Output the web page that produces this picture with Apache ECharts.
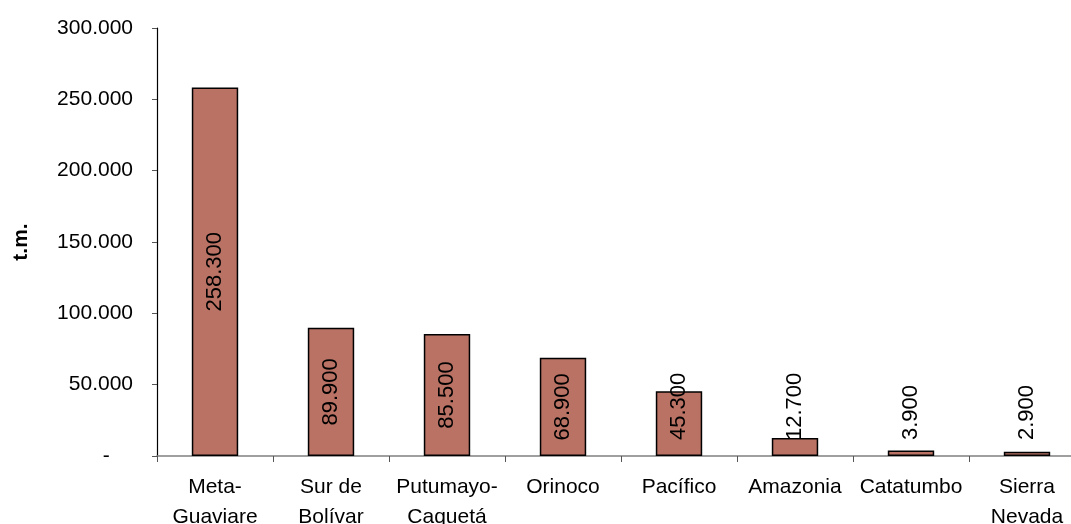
<!DOCTYPE html>
<html>
<head>
<meta charset="utf-8">
<script src="https://cdn.jsdelivr.net/npm/echarts@6/dist/echarts.min.js"></script>
<style>
    html, body { margin: 0; padding: 0; background: #fff; }
    #chart { width: 1071px; height: 524px; }
</style>
</head>
<body>
<div id="chart"></div>
<script>
const regions = ['Meta-\nGuaviare', 'Sur de\nBolívar', 'Putumayo-\nCaquetá', 'Orinoco', 'Pacífico', 'Amazonia', 'Catatumbo', 'Sierra\nNevada']
const tons = [258300, 89900, 85500, 68900, 45300, 12700, 3900, 2900]
const yTicks = [0, 50000, 100000, 150000, 200000, 250000, 300000]

const font = 'Liberation Sans, Arial, sans-serif'
const fmt = (v) => v === 0 ? '-    ' : String(v).replace(/\B(?=(\d{3})+(?!\d))/g, '.')

// small bars: Excel pushes the rotated label up so it ends just above the axis
const barData = tons.map((v) => {
    if (v > 60000) {
        return { value: v }
    }
    return {
        value: v,
        label: { position: 'insideBottom', distance: 16, align: 'left', verticalAlign: 'middle' }
    }
})

const myChart = echarts.init(document.getElementById('chart'))
const option = {
    animation: false,
    textStyle: { fontFamily: font },
    grid: {
        left: 157,
        right: -14,
        top: 28,
        bottom: 68,
        containLabel: false,
        outerBoundsMode: 'none'
    },
    xAxis: {
        type: 'category',
        data: regions,
        axisLine: { lineStyle: { color: '#808080', width: 1.5 } },
        axisTick: { show: true, length: 6, lineStyle: { color: '#555' } },
        axisLabel: {
            color: '#000',
            fontSize: 21,
            lineHeight: 30,
            margin: 16,
            interval: 0,
            fontFamily: font
        }
    },
    yAxis: {
        type: 'value',
        min: yTicks[0],
        max: yTicks[yTicks.length - 1],
        interval: yTicks[1] - yTicks[0],
        name: 't.m.',
        nameLocation: 'middle',
        nameGap: 125,
        nameRotate: 90,
        nameTextStyle: { color: '#000', fontSize: 21, fontWeight: 'bold', fontFamily: font },
        splitLine: { show: false },
        axisLine: { show: true, lineStyle: { color: '#000', width: 1.2 } },
        axisTick: { show: true, length: 5, lineStyle: { color: '#555' } },
        axisLabel: {
            color: '#000',
            fontSize: 21,
            margin: 24,
            fontFamily: font,
            formatter: fmt
        }
    },
    series: [
        {
            type: 'bar',
            data: barData,
            barWidth: '40%',
            itemStyle: {
                color: '#B97264',
                borderColor: '#000',
                borderWidth: 1.5
            },
            label: {
                show: true,
                position: 'inside',
                rotate: 90,
                color: '#000',
                fontSize: 22,
                fontFamily: font,
                formatter: (p) => fmt(p.value)
            }
        }
    ]
}
myChart.setOption(option)
</script>
</body>
</html>
